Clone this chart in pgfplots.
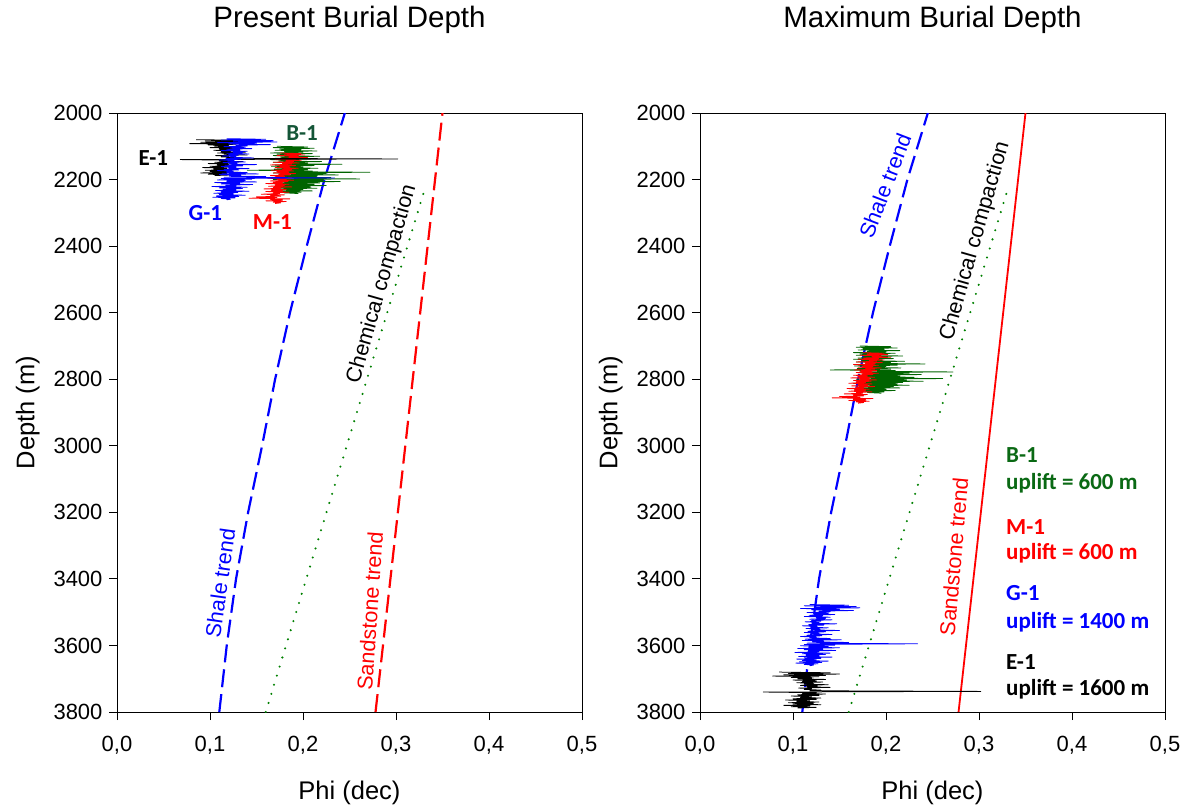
\documentclass[border=0pt]{standalone}
\usepackage{pgfplots}
\pgfplotsset{compat=1.18}
\usepackage{pgfplotstable}
\usepackage{fontspec}
\setmainfont{Liberation Sans}
\newfontfamily\wellfont{Carlito}

\definecolor{trendblue}{RGB}{0,0,255}
\definecolor{trendred}{RGB}{255,0,0}
\definecolor{chemgreen}{RGB}{0,128,0}
\definecolor{logblack}{RGB}{0,0,0}
\definecolor{logblue}{RGB}{0,0,255}
\definecolor{logred}{RGB}{255,0,0}
\definecolor{loggreen}{RGB}{0,100,0}
\definecolor{bonelabel}{RGB}{20,85,55}
\definecolor{uplgreen}{RGB}{10,105,20}

% porosity logs (depth in m, phi in dec) at present burial depth
\pgfplotstableread{
depth phi
2080 0.085
2082 0.140
2084 0.095
2086 0.150
2088 0.090
2090 0.135
2092 0.078
2094 0.128
2096 0.098
2098 0.120
2100 0.105
2102 0.135
2104 0.100
2106 0.125
2108 0.110
2110 0.132
2112 0.104
2114 0.122
2116 0.112
2118 0.138
2120 0.108
2122 0.126
2124 0.115
2126 0.140
2128 0.106
2130 0.120
2132 0.112
2134 0.130
2136 0.118
2138 0.302
2140 0.068
2142 0.125
2144 0.110
2146 0.135
2148 0.105
2150 0.128
2152 0.098
2154 0.120
2156 0.108
2158 0.130
2160 0.100
2162 0.125
2164 0.092
2166 0.118
2168 0.104
2170 0.128
2172 0.095
2174 0.122
2176 0.100
2178 0.130
2180 0.090
2182 0.118
2184 0.098
2186 0.125
2188 0.105
}\wellE

\pgfplotstableread{
depth phi
2077 0.118
2079 0.160
2081 0.112
2083 0.168
2085 0.125
2087 0.172
2089 0.108
2091 0.150
2093 0.120
2095 0.165
2097 0.128
2099 0.140
2101 0.115
2103 0.138
2105 0.122
2107 0.145
2109 0.118
2111 0.132
2113 0.112
2115 0.140
2117 0.125
2119 0.135
2121 0.118
2123 0.142
2125 0.120
2127 0.130
2129 0.113
2131 0.128
2133 0.122
2135 0.147
2137 0.117
2139 0.133
2141 0.110
2143 0.126
2145 0.119
2147 0.138
2149 0.114
2151 0.129
2153 0.121
2155 0.150
2157 0.116
2159 0.135
2161 0.112
2163 0.128
2165 0.120
2167 0.142
2169 0.115
2171 0.131
2173 0.108
2175 0.125
2177 0.118
2179 0.140
2181 0.113
2183 0.152
2185 0.110
2187 0.133
2189 0.121
2191 0.160
2193 0.115
2195 0.234
2197 0.112
2199 0.145
2201 0.108
2203 0.138
2205 0.118
2207 0.150
2209 0.105
2211 0.132
2213 0.112
2215 0.146
2217 0.117
2219 0.128
2221 0.102
2223 0.140
2225 0.110
2227 0.135
2229 0.114
2231 0.128
2233 0.106
2235 0.142
2237 0.112
2239 0.130
2241 0.104
2243 0.125
2245 0.110
2247 0.138
2249 0.107
2251 0.131
2253 0.103
2255 0.127
2257 0.112
2259 0.122
2261 0.118
}\wellG

\pgfplotstableread{
depth phi
2100 0.172
2102 0.205
2104 0.168
2106 0.212
2108 0.175
2110 0.198
2112 0.170
2114 0.215
2116 0.180
2118 0.200
2120 0.165
2122 0.210
2124 0.172
2126 0.195
2128 0.168
2130 0.218
2132 0.176
2134 0.202
2136 0.170
2138 0.208
2140 0.165
2142 0.196
2144 0.174
2146 0.220
2148 0.168
2150 0.205
2152 0.178
2154 0.242
2156 0.170
2158 0.212
2160 0.166
2162 0.200
2164 0.175
2166 0.216
2168 0.169
2170 0.205
2172 0.140
2174 0.210
2176 0.172
2178 0.272
2180 0.168
2182 0.225
2184 0.175
2186 0.238
2188 0.170
2190 0.215
2192 0.178
2194 0.230
2196 0.172
2198 0.261
2200 0.168
2202 0.222
2204 0.176
2206 0.240
2208 0.170
2210 0.218
2212 0.165
2214 0.212
2216 0.178
2218 0.225
2220 0.170
2222 0.208
2224 0.175
2226 0.215
2228 0.168
2230 0.200
2232 0.176
2234 0.210
2236 0.172
2238 0.198
2240 0.180
2242 0.195
}\wellB

\pgfplotstableread{
depth phi
2120 0.175
2122 0.198
2124 0.180
2126 0.202
2128 0.172
2130 0.195
2132 0.185
2134 0.205
2136 0.176
2138 0.192
2140 0.170
2142 0.198
2144 0.182
2146 0.190
2148 0.168
2150 0.196
2152 0.178
2154 0.188
2156 0.165
2158 0.192
2160 0.175
2162 0.186
2164 0.170
2166 0.195
2168 0.178
2170 0.188
2172 0.166
2174 0.190
2176 0.172
2178 0.185
2180 0.168
2182 0.192
2184 0.174
2186 0.186
2188 0.165
2190 0.180
2192 0.170
2194 0.188
2196 0.162
2198 0.182
2200 0.172
2202 0.190
2204 0.165
2206 0.184
2208 0.168
2210 0.178
2212 0.160
2214 0.185
2216 0.170
2218 0.180
2220 0.163
2222 0.188
2224 0.168
2226 0.176
2228 0.158
2230 0.182
2232 0.166
2234 0.178
2236 0.160
2238 0.185
2240 0.168
2242 0.175
2244 0.155
2246 0.180
2248 0.165
2250 0.176
2252 0.150
2254 0.172
2256 0.142
2258 0.186
2260 0.165
2262 0.178
2264 0.160
2266 0.182
2268 0.168
2270 0.176
2272 0.170
}\wellM

% compaction trends
\pgfplotstableread{
depth phi
3800 0.110
3600 0.118
3400 0.128
3200 0.141
3000 0.156
2800 0.170
2600 0.186
2400 0.204
2200 0.223
2000 0.245
}\shaletrend

\pgfplotstableread{
depth phi
3800 0.278
2000 0.350
}\sandtrend

\pgfplotstableread{
depth phi
3800 0.160
2228 0.331
}\chemtrend

\tikzset{
  shale/.style={trendblue, line width=2.2pt, dash pattern=on 18pt off 7pt},
  chem/.style={chemgreen, line width=2.3pt, line cap=round, dash pattern=on 0pt off 9.5pt},
  logline/.style={line width=0.75pt, line join=round},
  trendtext/.style={font=\normalfont\fontsize{21.5}{25}\selectfont, anchor=center, inner sep=0pt},
  welltext/.style={font=\wellfont\bfseries\fontsize{23}{27}\selectfont, anchor=center, inner sep=0pt},
  uptext/.style={font=\wellfont\bfseries\fontsize{23}{27}\selectfont, anchor=west, inner sep=0pt},
}

\pgfplotsset{
  burialaxis/.style={
    scale only axis,
    width=465pt, height=599pt,
    xmin=0, xmax=0.5, ymin=2000, ymax=3800,
    y dir=reverse,
    xtick={0,0.1,0.2,0.3,0.4,0.5},
    ytick={2000,2200,2400,2600,2800,3000,3200,3400,3600,3800},
    tick pos=left,
    tick align=outside,
    major tick length=8pt,
    axis line style={line width=1pt},
    every tick/.style={black, line width=1pt},
    xticklabel style={yshift=-13pt, /pgf/number format/.cd, fixed, fixed zerofill, precision=1, use comma, assume math mode=true},
    yticklabel style={xshift=-3pt, /pgf/number format/.cd, 1000 sep={}, assume math mode=true},
    tick label style={font=\normalfont\fontsize{22}{26}\selectfont},
    label style={font=\normalfont\fontsize{25.5}{30}\selectfont},
    title style={font=\normalfont\fontsize{29.5}{34}\selectfont, at={(axis description cs:0.5,1.145)}, anchor=center},
    xlabel style={at={(axis description cs:0.5,-0.1352)}, anchor=center},
    ylabel style={at={(axis description cs:-0.192,0.5)}, anchor=center},
    xlabel={Phi (dec)},
    ylabel={Depth (m)},
    clip=true,
  },
}

\begin{document}
\begin{tikzpicture}
\path[use as bounding box] (0pt,0pt) rectangle (1188pt,-809pt);

% present burial depth
\begin{axis}[burialaxis, at={(117pt,-712pt)}, anchor=south west,
  title={Present Burial Depth}]
  \addplot[shale] table[x=phi, y=depth] {\shaletrend};
  \addplot[chem] table[x=phi, y=depth] {\chemtrend};
  \addplot[trendred, line width=2.2pt, dash pattern=on 18pt off 7pt] table[x=phi, y=depth] {\sandtrend};
  \addplot[logline, loggreen] table[x=phi, y=depth] {\wellB};
  \addplot[logline, logred] table[x=phi, y=depth] {\wellM};
  \addplot[logline, logblack] table[x=phi, y=depth] {\wellE};
  \addplot[logline, logblue] table[x=phi, y=depth] {\wellG};
  \node[trendtext, text=trendblue, rotate=82] at (axis cs:0.111,3412) {Shale trend};
  \node[trendtext, text=black, rotate=74] at (axis cs:0.285,2514) {Chemical compaction};
  \node[trendtext, text=trendred, rotate=86] at (axis cs:0.272,3497) {Sandstone trend};
  \node[welltext, text=black] at (axis cs:0.039,2135) {E-1};
  \node[welltext, text=bonelabel] at (axis cs:0.199,2060) {B-1};
  \node[welltext, text=logblue] at (axis cs:0.095,2300) {G-1};
  \node[welltext, text=logred] at (axis cs:0.167,2328) {M-1};
\end{axis}

% maximum burial depth: logs moved down by each well's uplift
\begin{axis}[burialaxis, at={(700pt,-712pt)}, anchor=south west,
  title={Maximum Burial Depth}]
  \addplot[shale] table[x=phi, y=depth] {\shaletrend};
  \addplot[chem] table[x=phi, y=depth] {\chemtrend};
  \addplot[trendred, line width=1.8pt] table[x=phi, y=depth] {\sandtrend};
  \addplot[logline, loggreen] table[x=phi, y expr=\thisrow{depth}+600] {\wellB};
  \addplot[logline, logred] table[x=phi, y expr=\thisrow{depth}+600] {\wellM};
  \addplot[logline, logblack] table[x=phi, y expr=\thisrow{depth}+1600] {\wellE};
  \addplot[logline, logblue] table[x=phi, y expr=\thisrow{depth}+1400] {\wellG};
  \node[trendtext, text=trendblue, rotate=69] at (axis cs:0.199,2219) {Shale trend};
  \node[trendtext, text=black, rotate=74] at (axis cs:0.296,2385) {Chemical compaction};
  \node[trendtext, text=trendred, rotate=85] at (axis cs:0.273,3334) {Sandstone trend};
  \node[uptext, text=uplgreen] at (axis cs:0.329,3028) {B-1};
  \node[uptext, text=uplgreen] at (axis cs:0.329,3112) {uplift = 600 m};
  \node[uptext, text=logred] at (axis cs:0.329,3244) {M-1};
  \node[uptext, text=logred] at (axis cs:0.329,3322) {uplift = 600 m};
  \node[uptext, text=logblue] at (axis cs:0.329,3442) {G-1};
  \node[uptext, text=logblue] at (axis cs:0.329,3530) {uplift = 1400 m};
  \node[uptext, text=black] at (axis cs:0.329,3650) {E-1};
  \node[uptext, text=black] at (axis cs:0.329,3731) {uplift = 1600 m};
\end{axis}
\end{tikzpicture}
\end{document}
